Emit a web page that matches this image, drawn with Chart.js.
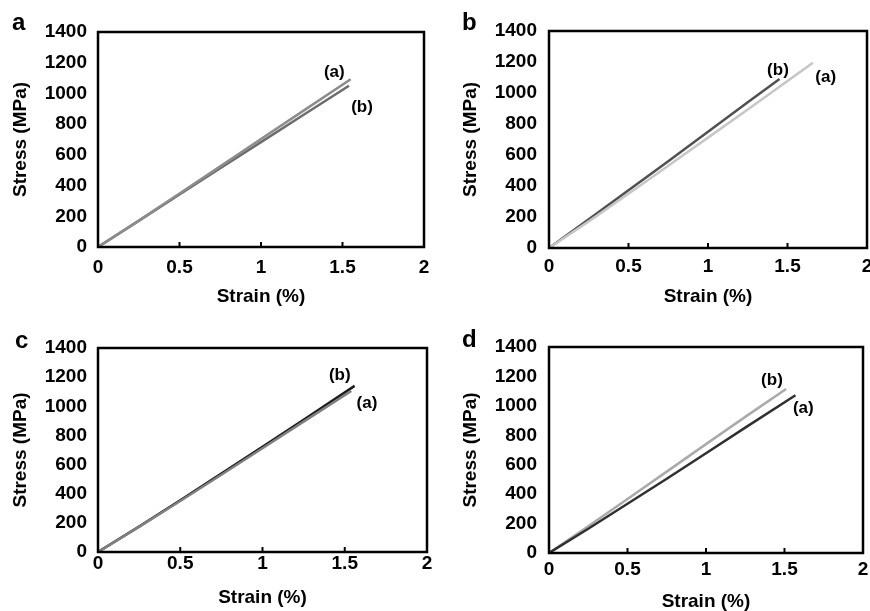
<!DOCTYPE html>
<html>
<head>
<meta charset="utf-8">
<script src="https://cdn.jsdelivr.net/npm/chart.js@4.4.0/dist/chart.umd.min.js"></script>
<style>
  html, body { margin: 0; padding: 0; background: #fff; overflow: hidden; width: 870px; height: 611px; }
  .panel { position: absolute; width: 450px; height: 311px; }
  .letter { position: absolute; font: bold 24px "Liberation Sans", Arial, sans-serif; line-height: 24px; color: #000; }
</style>
</head>
<body>
<div class="panel" style="left:0;top:0"><canvas id="chartA" width="450" height="311"></canvas></div>
<div class="panel" style="left:435px;top:0"><canvas id="chartB" width="450" height="311"></canvas></div>
<div class="panel" style="left:0;top:305px"><canvas id="chartC" width="450" height="311"></canvas></div>
<div class="panel" style="left:435px;top:305px"><canvas id="chartD" width="450" height="311"></canvas></div>
<div class="letter" style="left:12px;top:10px">a</div>
<div class="letter" style="left:462px;top:10px">b</div>
<div class="letter" style="left:15px;top:328px">c</div>
<div class="letter" style="left:462px;top:327px">d</div>
<script>
'use strict';

// axes
let strainTicks = [0, 0.5, 1, 1.5, 2];
let stressTicks = [0, 200, 400, 600, 800, 1000, 1200, 1400];
let curveNames = ['(a)', '(b)'];

// panel a
let aStrainA = [0, 0.25, 0.5, 0.75, 1.0, 1.25, 1.55];
let aStressA = [0, 172, 348, 525, 703, 880, 1092];
let aStrainB = [0, 0.25, 0.5, 0.75, 1.0, 1.25, 1.54];
let aStressB = [0, 170, 342, 513, 683, 853, 1050];

// panel b
let bStrainA = [0, 0.25, 0.5, 0.75, 1.0, 1.25, 1.66];
let bStressA = [0, 172, 350, 530, 712, 893, 1195];
let bStrainB = [0, 0.25, 0.5, 0.75, 1.0, 1.25, 1.45];
let bStressB = [0, 185, 372, 560, 750, 940, 1090];

// panel c
let cStrainA = [0, 0.25, 0.5, 0.75, 1.0, 1.25, 1.54];
let cStressA = [0, 172, 350, 530, 712, 895, 1105];
let cStrainB = [0, 0.25, 0.5, 0.75, 1.0, 1.25, 1.56];
let cStressB = [0, 175, 355, 538, 722, 908, 1140];

// panel d
let dStrainA = [0, 0.25, 0.5, 0.75, 1.0, 1.25, 1.57];
let dStressA = [0, 165, 335, 505, 678, 852, 1072];
let dStrainB = [0, 0.25, 0.5, 0.75, 1.0, 1.25, 1.51];
let dStressB = [0, 182, 367, 553, 740, 925, 1115];

// where the curve names sit, in data units [strain, stress]
let aLabelPos = [[1.45, 1140], [1.62, 912]];
let bLabelPos = [[1.74, 1103], [1.44, 1148]];
let cLabelPos = [[1.635, 1023], [1.47, 1215]];
let dLabelPos = [[1.62, 982], [1.42, 1175]];

const FONT = '"Liberation Sans", Arial, sans-serif';

function toPoints(xs, ys) {
    let pts = [];
    for (let i = 0; i < xs.length; i++) {
        pts.push({ x: xs[i], y: ys[i] });
    }
    return pts;
}

// box around the plot, inward x ticks and the (a)/(b) labels
const framePlugin = {
    id: 'frame',
    afterDatasetsDraw(chart, args, opts) {
        const ctx = chart.ctx;
        const area = chart.chartArea;
        const xs = chart.scales.x;
        const ys = chart.scales.y;
        ctx.save();
        ctx.strokeStyle = '#000';
        ctx.lineWidth = 2.5;
        ctx.strokeRect(area.left, area.top, area.right - area.left, area.bottom - area.top);
        ctx.lineWidth = 2;
        for (let i = 1; i < strainTicks.length - 1; i++) {
            let px = xs.getPixelForValue(strainTicks[i]);
            ctx.beginPath();
            ctx.moveTo(px, area.bottom);
            ctx.lineTo(px, area.bottom - 5);
            ctx.stroke();
        }
        ctx.fillStyle = '#000';
        ctx.font = 'bold 17px ' + FONT;
        ctx.textAlign = 'center';
        ctx.textBaseline = 'middle';
        for (let i = 0; i < curveNames.length; i++) {
            let p = opts.labels[i];
            ctx.fillText(curveNames[i], xs.getPixelForValue(p[0]), ys.getPixelForValue(p[1]));
        }
        ctx.restore();
    }
};

function makeChart(id, series, labelPos, box) {
    let ctx = document.getElementById(id).getContext('2d');
    return new Chart(ctx, {
        type: 'line',
        data: {
            datasets: series.map(s => ({
                label: s.name,
                data: toPoints(s.xs, s.ys),
                borderColor: s.color,
                borderWidth: 2.5,
                pointRadius: 0,
                tension: 0,
                fill: false
            }))
        },
        options: {
            responsive: false,
            animation: false,
            layout: {
                padding: { left: 0, top: box.top, right: 450 - box.right, bottom: 311 - box.bottom - box.xH }
            },
            plugins: {
                legend: { display: false },
                tooltip: { enabled: false },
                frame: { labels: labelPos }
            },
            scales: {
                x: {
                    type: 'linear',
                    min: strainTicks[0],
                    max: strainTicks[strainTicks.length - 1],
                    afterBuildTicks: (s) => { s.ticks = strainTicks.map(v => ({ value: v })); },
                    grid: { display: false, drawTicks: false },
                    border: { display: false },
                    ticks: {
                        color: '#000',
                        padding: box.xPad,
                        maxRotation: 0,
                        callback: (v) => String(v),
                        font: { family: FONT, size: 19, weight: 'bold' }
                    },
                    title: {
                        display: true,
                        text: 'Strain (%)',
                        color: '#000',
                        padding: 0,
                        font: { family: FONT, size: 19, weight: 'bold' }
                    },
                    afterFit: (s) => { s.height = box.xH; }
                },
                y: {
                    type: 'linear',
                    min: stressTicks[0],
                    max: stressTicks[stressTicks.length - 1],
                    afterBuildTicks: (s) => { s.ticks = stressTicks.map(v => ({ value: v })); },
                    grid: { display: false, drawTicks: false },
                    border: { display: false },
                    ticks: {
                        color: '#000',
                        padding: box.yPad,
                        callback: (v) => String(v),
                        font: { family: FONT, size: 19, weight: 'bold' }
                    },
                    title: {
                        display: true,
                        text: 'Stress (MPa)',
                        color: '#000',
                        padding: { top: box.yTitle, bottom: 0 },
                        font: { family: FONT, size: 19, weight: 'bold' }
                    },
                    afterFit: (s) => { s.width = box.left; }
                }
            }
        },
        plugins: [framePlugin]
    });
}

makeChart('chartA', [
    { name: '(a)', xs: aStrainA, ys: aStressA, color: '#8c8c8c' },
    { name: '(b)', xs: aStrainB, ys: aStressB, color: '#6c6c6c' }
], aLabelPos, { left: 98, right: 424, top: 32, bottom: 247, xH: 61, xPad: 9, yPad: 11, yTitle: 9 });

makeChart('chartB', [
    { name: '(a)', xs: bStrainA, ys: bStressA, color: '#c6c6c6' },
    { name: '(b)', xs: bStrainB, ys: bStressB, color: '#505050' }
], bLabelPos, { left: 114, right: 432, top: 31, bottom: 248, xH: 60, xPad: 7, yPad: 12, yTitle: 24 });

makeChart('chartC', [
    { name: '(a)', xs: cStrainA, ys: cStressA, color: '#808080' },
    { name: '(b)', xs: cStrainB, ys: cStressB, color: '#1c1c1c' }
], cLabelPos, { left: 98, right: 427, top: 43, bottom: 247, xH: 57, xPad: 0, yPad: 11, yTitle: 9 });

makeChart('chartD', [
    { name: '(a)', xs: dStrainA, ys: dStressA, color: '#303030' },
    { name: '(b)', xs: dStrainB, ys: dStressB, color: '#aaaaaa' }
], dLabelPos, { left: 114, right: 428, top: 42, bottom: 248, xH: 60, xPad: 5, yPad: 12, yTitle: 24 });
</script>
</body>
</html>
